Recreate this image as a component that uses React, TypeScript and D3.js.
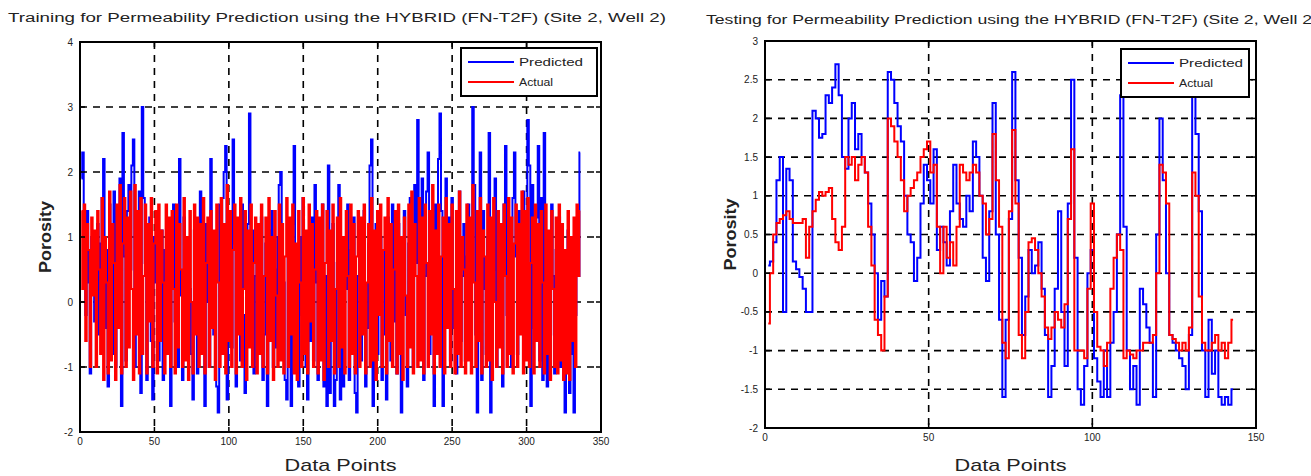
import React from "react";
import * as d3 from "d3";

const W = 1311;
const H = 476;
const FONT = "'Liberation Sans', Arial, sans-serif";

// training set (left panel)
const trainPredicted = [
  1.9, 2.3, 0.5, -0.2, 1.4, 0.3, -1.1, 1.0, 0.6, -0.3, 0.0, 1.2, -0.5, 0.9, 1.6, 2.2, -0.4, 0.8, -1.3, 1.5,
  0.2, -0.8, 1.7, -1.0, 1.1, 0.4, 1.9, -1.6, 2.6, 0.7, -0.9, 1.4, 1.8, 0.5, 2.1, 2.5, -1.0, 1.2, 0.2, 1.7,
  -1.4, 3.0, 1.6, 0.6, -1.2, 0.9, 1.3, -0.6, -1.5, 1.0, 0.3, 1.4, -0.9, 0.5, 1.1, -1.2, 0.8, -0.4, 1.2, -0.2,
  -1.6, 0.7, 1.5, -0.3, 0.9, -1.0, 2.2, 0.1, -1.2, 1.3, 0.4, -0.6, 1.0, 0.2, -0.8, -1.5, 1.1, 0.6, -1.1, 0.3,
  1.7, -0.4, 0.8, -1.6, 1.2, 0.0, -1.0, 2.2, 1.0, -0.5, 0.7, -1.3, -1.7, 1.5, 0.4, 1.6, 2.0, 2.4, -1.5, 0.5,
  1.3, -0.7, 2.5, 0.9, -1.3, 0.2, 1.0, -0.9, 1.5, -0.2, -1.4, 0.6, 1.2, 2.9, -0.6, 1.1, -1.1, 0.4, 0.8, -0.3,
  0.6, 1.3, -1.2, -0.5, 0.9, -1.6, 1.1, 0.0, 1.4, -1.0, 0.5, -0.7, 1.0, 1.8, 2.0, -0.4, 0.3, -1.2, -1.5, 0.8,
  0.2, -1.6, 1.2, 2.4, -0.8, 0.6, -1.3, 1.0, -0.2, 1.6, 0.5, -1.0, -1.5, 0.9, -0.6, 1.3, -0.9, 1.8, 0.3, -1.2,
  0.9, -0.6, 1.5, -1.3, 0.4, -1.6, 2.1, -1.4, -0.5, 1.2, -1.6, -1.2, 0.6, 1.8, -1.5, -0.3, -1.3, 1.0, 0.2, 1.5,
  -1.2, 0.8, -0.5, 1.3, -1.4, -1.7, 0.4, 1.1, -0.9, 0.6, 1.4, -1.3, -0.4, 0.9, 2.1, 2.5, -1.6, 0.7, 1.2, -0.8,
  0.3, 1.0, -1.2, -0.5, 0.8, -1.5, 1.3, 0.1, -0.9, 1.5, -0.3, 0.6, -1.1, 1.2, -0.6, -1.7, 0.5, 1.4, -0.2, -1.3,
  0.9, 1.6, 0.2, -1.0, 1.8, 0.6, 2.8, -0.7, 1.3, 1.9, -1.2, 0.4, 1.7, 2.3, -0.8, 1.1, 0.3, -1.6, 1.5, 0.0,
  2.2, 2.9, 1.4, -1.6, 0.8, 1.9, 0.5, 1.3, -0.9, 1.6, -0.4, 0.2, -1.1, 0.9, 1.7, -0.6, 0.4, 1.2, -0.9, 0.7,
  1.5, -0.3, 0.6, 3.0, 1.8, -0.5, -1.7, 0.9, 2.3, -1.2, 1.4, 0.2, -0.8, 1.0, 2.6, -1.7, 1.1, 0.5, 1.9, -1.0,
  1.2, -0.6, 0.8, -1.3, 1.5, 2.4, -0.2, 1.0, 0.4, -1.0, 1.6, 2.3, 0.7, -0.8, 1.4, -0.3, 0.9, 1.7, -0.5, 1.2,
  2.8, 2.1, -1.6, 1.8, -0.4, 0.6, 1.3, 2.4, -0.9, 1.6, -1.2, 2.6, 0.3, -1.3, 1.0, -0.5, 1.5, 0.4, -1.1, 0.8,
  -0.6, 1.3, -1.0, 0.7, -1.2, -1.7, 0.5, 1.1, -1.4, -0.8, 0.9, -1.7, -0.2, 1.0, 0.4, 2.3,
];
const trainActual = [
  1.4, 0.2, 1.5, -0.6, 1.2, 0.8, -1.0, 1.3, 0.1, 1.1, -1.0, 1.4, 0.5, -0.8, 1.6, -1.2, 1.0, 0.3, -1.1, 1.7,
  -0.9, 1.2, 0.6, -1.2, 1.5, -0.4, 1.8, -1.1, 0.9, 1.6, -1.0, 1.3, -0.7, 1.7, 0.2, -1.2, 1.8, -0.5, 1.4, -1.1,
  1.6, -0.8, 0.4, 1.5, -1.1, 1.2, -0.3, 1.6, -1.0, 0.9, 1.4, -1.1, 1.5, -0.6, 1.1, 0.3, -1.1, 1.5, -0.8, 1.3,
  -1.0, 1.4, 0.2, -1.1, 1.5, -0.7, 1.2, 0.5, -1.0, 1.6, -0.9, 1.0, -1.2, 1.4, 0.0, -1.1, 1.5, -0.5, 1.3, -1.0,
  1.2, -0.8, 1.6, -1.1, 0.6, 1.3, -1.0, 1.4, -0.4, 1.1, -1.2, 1.5, 0.3, -1.0, 1.6, -0.8, 1.2, -1.1, 1.8, -0.6,
  1.4, -1.0, 0.8, 1.5, -1.1, 1.3, -0.5, 1.6, -1.0, 0.2, 1.4, -1.2, 1.1, -0.7, 1.5, -1.0, 0.6, 1.3, -1.1, 1.2,
  -0.8, 1.5, -1.0, 0.4, 1.3, -1.1, 1.6, -0.6, 1.0, -1.2, 1.4, 0.1, -1.0, 1.5, -0.9, 1.2, -1.1, 0.7, 1.6, -1.0,
  1.3, -0.5, 1.5, -1.1, 0.9, -1.2, 1.4, 0.3, -1.0, 1.6, -0.8, 1.1, -1.1, 1.5, -0.3, 1.2, -1.0, 0.5, 1.4, -1.1,
  1.3, -0.9, 1.5, -1.2, 0.6, 1.4, -1.0, 1.1, -0.6, 1.5, -1.1, 0.2, 1.3, -1.0, 1.6, -0.7, 1.0, -1.1, 1.4, 0.4,
  -1.0, 1.5, -0.8, 1.2, -1.1, 0.7, 1.4, -1.0, 1.3, -0.5, 1.5, -1.1, 0.3, 1.2, -1.0, 1.6, -0.9, 1.1, -1.2, 1.4,
  -0.2, 1.5, -1.0, 0.8, 1.3, -1.1, 1.6, -0.6, 1.2, -1.0, 0.5, 1.4, -1.1, 1.5, -0.8, 1.0, -1.2, 1.3, 0.1, -1.0,
  1.5, -0.7, 1.7, -1.1, 1.2, 0.4, -1.0, 1.6, -0.9, 1.3, -1.1, 1.5, 0.6, -1.0, 1.4, -0.5, 1.8, -1.1, 1.1, -0.8,
  1.5, -1.0, 0.7, 1.3, -1.1, 1.6, -0.4, 1.2, -1.0, 1.5, 0.2, -1.1, 1.4, -0.8, 1.7, -1.0, 1.0, 0.5, -1.1, 1.5,
  -0.9, 1.3, -1.1, 1.8, 0.3, -1.0, 1.4, -0.6, 1.6, -1.1, 1.1, 0.7, -1.0, 1.5, -0.9, 1.3, -1.2, 1.6, 0.0, -1.0,
  1.4, -0.7, 1.2, -1.1, 1.5, 0.4, -1.0, 1.6, -0.8, 1.3, -1.1, 0.9, 1.5, -1.0, 1.2, -0.5, 1.7, -1.1, 1.4, -0.9,
  1.6, -1.0, 0.6, 1.3, -1.1, 1.5, -0.6, 1.2, -1.0, 1.4, 0.3, -1.1, 1.5, -0.8, 1.1, -1.2, 1.4, 0.2, -1.0, 1.3,
  -1.1, 1.5, -0.9, 1.2, -1.2, 0.8, -1.1, 1.4, -1.2, 1.0, -0.6, 1.3, -1.0, 1.5, 0.4, 1.4,
];

// testing set (right panel)
const testPredicted = [
  0.1, 0.15, 0.4, 1.2, 1.5, -0.5, 1.35, 1.2, 0.15, 0.05, -0.05, -0.2, -0.5, -0.5, 2.1, 2.0, 1.75, 1.8, 2.3, 2.2,
  2.4, 2.7, 2.3, 1.5, 1.35, 2.0, 2.2, 1.6, 1.8, 1.5, 1.3, 0.9, 0.5, 0.0, -0.6, -0.1, -0.3, 2.6, 2.5, 2.2,
  1.9, 1.7, 1.0, 0.5, 0.4, -0.1, 0.2, 0.9, 1.4, 1.2, 0.9, 1.6, 0.3, 0.6, 0.4, 0.1, 0.8, 1.4, 0.9, 0.7,
  0.6, 1.0, 0.8, 1.7, 1.5, 1.0, 0.2, -0.1, 0.8, 2.2, 0.5, -0.6, -1.6, -0.6, 0.7, 2.6, 1.2, 0.2, -0.8, -0.3,
  0.3, 0.0, 0.1, 0.4, -0.2, -0.8, -1.6, -1.2, -0.2, 0.8, -0.5, -1.2, 0.9, 2.5, 0.2, -1.5, -1.7, -1.2, 0.0, 0.3,
  -1.1, -1.4, -1.6, -1.0, -1.6, -0.9, -0.5, 0.5, 2.3, 0.6, -1.0, -1.5, -1.2, -1.7, -0.2, -0.4, -0.7, -0.9, -1.6, 0.5,
  2.0, 1.2, 0.0, -0.8, -0.9, -1.0, -1.1, -1.2, -1.5, -0.8, 2.3, 1.8, 0.8, -1.0, -1.6, -0.6, -1.3, -1.0, -1.6, -1.7,
  -1.6, -1.7, -1.5,
];
const testActual = [
  -0.65, 0.0, 0.5, 0.65, 0.7, 0.75, 0.8, 0.7, 0.65, 0.65, 0.65, 0.7, 0.2, 0.6, 0.8, 0.95, 1.05, 1.0, 1.05, 1.1,
  0.7, 0.4, 0.3, 0.6, 1.5, 1.4, 1.5, 1.2, 1.4, 1.5, 1.3, 0.6, 0.1, -0.6, -0.8, -1.0, -0.3, 2.0, 1.9, 1.7,
  1.5, 1.2, 0.8, 1.0, 1.1, 1.2, 1.3, 1.5, 1.6, 1.7, 1.3, 1.4, 0.6, 0.0, 0.6, 0.2, 0.4, 0.1, 0.6, 1.4,
  1.3, 1.2, 1.3, 1.4, 1.3, 1.0, 0.9, 0.5, 0.7, 1.8, 1.2, 0.6, -0.9, -1.1, 0.8, 1.85, 0.9, -0.8, -1.1, -0.5,
  0.4, 0.45, 0.3, 0.0, -0.3, -0.7, -0.85, -0.7, -0.5, -0.6, -0.7, -0.4, 0.7, 1.6, -1.0, -1.0, -1.0, -1.1, -0.2, 0.9,
  -0.5, -0.95, -1.0, -1.2, -0.9, -0.2, 0.2, 0.5, 0.3, -1.1, -1.0, -1.05, -1.1, -1.0, -1.0, -0.9, -0.9, -0.9, -0.8, 0.0,
  1.4, 1.3, 0.9, -0.8, -0.85, -0.9, -1.0, -0.9, -1.0, -0.7, 1.3, 1.0, -0.3, -0.9, -1.0, -1.0, -0.9, -0.8, -1.0, -0.9,
  -1.1, -0.9, -0.6,
];

const trainXTicks = [0, 50, 100, 150, 200, 250, 300, 350];
const trainYTicks = [-2, -1, 0, 1, 2, 3, 4];
const testXTicks = [0, 50, 100, 150];
const testYTicks = [-2, -1.5, -1, -0.5, 0, 0.5, 1, 1.5, 2, 2.5, 3];

const legendNames = ["Predicted", "Actual"];
const seriesColors = ["#0000ff", "#ff0000"];

type PanelProps = {
  title: string;
  titleX: number;
  titleY: number;
  titleLen: number;
  left: number;
  right: number;
  top: number;
  bottom: number;
  xDomain: [number, number];
  yDomain: [number, number];
  xTicks: number[];
  yTicks: number[];
  predicted: number[];
  actual: number[];
  legend: { x: number; y: number; w: number; h: number };
};

function Panel(p: PanelProps) {
  const x = d3.scaleLinear().domain(p.xDomain).range([p.left, p.right]);
  const y = d3.scaleLinear().domain(p.yDomain).range([p.bottom, p.top]);
  // the source plot looks stair-stepped at this resolution
  const line = d3
    .line<number>()
    .x((_, i) => x(i + 1))
    .y((d) => y(d))
    .curve(d3.curveStep);

  const innerX = p.xTicks.filter((t) => t > p.xDomain[0] && t < p.xDomain[1]);
  const innerY = p.yTicks.filter((t) => t > p.yDomain[0] && t < p.yDomain[1]);
  const lg = p.legend;
  const midX = (p.left + p.right) / 2;
  const midY = (p.top + p.bottom) / 2;

  return (
    <g fontFamily={FONT}>
      <text
        x={p.titleX}
        y={p.titleY}
        fontSize={12}
        textLength={p.titleLen}
        lengthAdjust="spacingAndGlyphs"
        fill="#222"
      >
        {p.title}
      </text>

      {/* grid */}
      <g stroke="#000" strokeWidth={1.6} strokeDasharray="7,6">
        {innerX.map((t) => (
          <line key={"gx" + t} x1={x(t)} x2={x(t)} y1={p.top} y2={p.bottom} />
        ))}
        {innerY.map((t) => (
          <line key={"gy" + t} x1={p.left} x2={p.right} y1={y(t)} y2={y(t)} />
        ))}
      </g>

      {/* series */}
      <path d={line(p.predicted) ?? ""} fill="none" stroke={seriesColors[0]} strokeWidth={2} />
      <path d={line(p.actual) ?? ""} fill="none" stroke={seriesColors[1]} strokeWidth={2} />

      {/* inward ticks */}
      <g stroke="#000" strokeWidth={1.5}>
        {innerX.map((t) => (
          <g key={"tx" + t}>
            <line x1={x(t)} x2={x(t)} y1={p.bottom} y2={p.bottom - 5} />
            <line x1={x(t)} x2={x(t)} y1={p.top} y2={p.top + 5} />
          </g>
        ))}
        {innerY.map((t) => (
          <g key={"ty" + t}>
            <line x1={p.left} x2={p.left + 5} y1={y(t)} y2={y(t)} />
            <line x1={p.right} x2={p.right - 5} y1={y(t)} y2={y(t)} />
          </g>
        ))}
      </g>

      {/* frame */}
      <rect
        x={p.left}
        y={p.top}
        width={p.right - p.left}
        height={p.bottom - p.top}
        fill="none"
        stroke="#000"
        strokeWidth={2}
      />

      {/* tick labels */}
      <g fontSize={10} fill="#222">
        {p.xTicks.map((t) => (
          <text key={"lx" + t} x={x(t)} y={p.bottom + 13} textAnchor="middle">
            {String(t)}
          </text>
        ))}
        {p.yTicks.map((t) => (
          <text key={"ly" + t} x={p.left - 7} y={y(t) + 3.5} textAnchor="end">
            {String(t)}
          </text>
        ))}
      </g>

      {/* axis labels */}
      <text
        x={midX}
        y={471}
        textAnchor="middle"
        fontSize={17}
        textLength={112}
        lengthAdjust="spacingAndGlyphs"
        fill="#222"
      >
        Data Points
      </text>
      <text
        transform={`translate(${p.left - 29},${midY}) rotate(-90)`}
        textAnchor="middle"
        fontSize={17}
        fontWeight="bold"
        textLength={72}
        lengthAdjust="spacingAndGlyphs"
        fill="#222"
      >
        Porosity
      </text>

      {/* legend */}
      <rect x={lg.x} y={lg.y} width={lg.w} height={lg.h} fill="#fff" stroke="#000" strokeWidth={2} />
      {legendNames.map((name, i) => (
        <g key={name}>
          <line
            x1={lg.x + 7}
            x2={lg.x + 53}
            y1={lg.y + 14 + i * 20}
            y2={lg.y + 14 + i * 20}
            stroke={seriesColors[i]}
            strokeWidth={2}
          />
          <text
            x={lg.x + 58}
            y={lg.y + 18 + i * 20}
            fontSize={11}
            textLength={i === 0 ? 64 : 34}
            lengthAdjust="spacingAndGlyphs"
            fill="#222"
          >
            {name}
          </text>
        </g>
      ))}
    </g>
  );
}

export default function App() {
  return (
    <svg
      width={W}
      height={H}
      style={{ position: "absolute", left: 0, top: 0, background: "#fff" }}
    >
      <rect width={W} height={H} fill="#fff" />
      <Panel
        title="Training for Permeability Prediction using the HYBRID (FN-T2F) (Site 2, Well 2)"
        titleX={8}
        titleY={22}
        titleLen={658}
        left={80}
        right={601}
        top={42}
        bottom={432}
        xDomain={[0, 350]}
        yDomain={[-2, 4]}
        xTicks={trainXTicks}
        yTicks={trainYTicks}
        predicted={trainPredicted}
        actual={trainActual}
        legend={{ x: 461, y: 48, w: 136, h: 48 }}
      />
      <Panel
        title="Testing for Permeability Prediction using the HYBRID (FN-T2F) (Site 2, Well 2)"
        titleX={706}
        titleY={24}
        titleLen={612}
        left={765}
        right={1256}
        top={41}
        bottom={428}
        xDomain={[0, 150]}
        yDomain={[-2, 3]}
        xTicks={testXTicks}
        yTicks={testYTicks}
        predicted={testPredicted}
        actual={testActual}
        legend={{ x: 1121, y: 49, w: 128, h: 48 }}
      />
    </svg>
  );
}
